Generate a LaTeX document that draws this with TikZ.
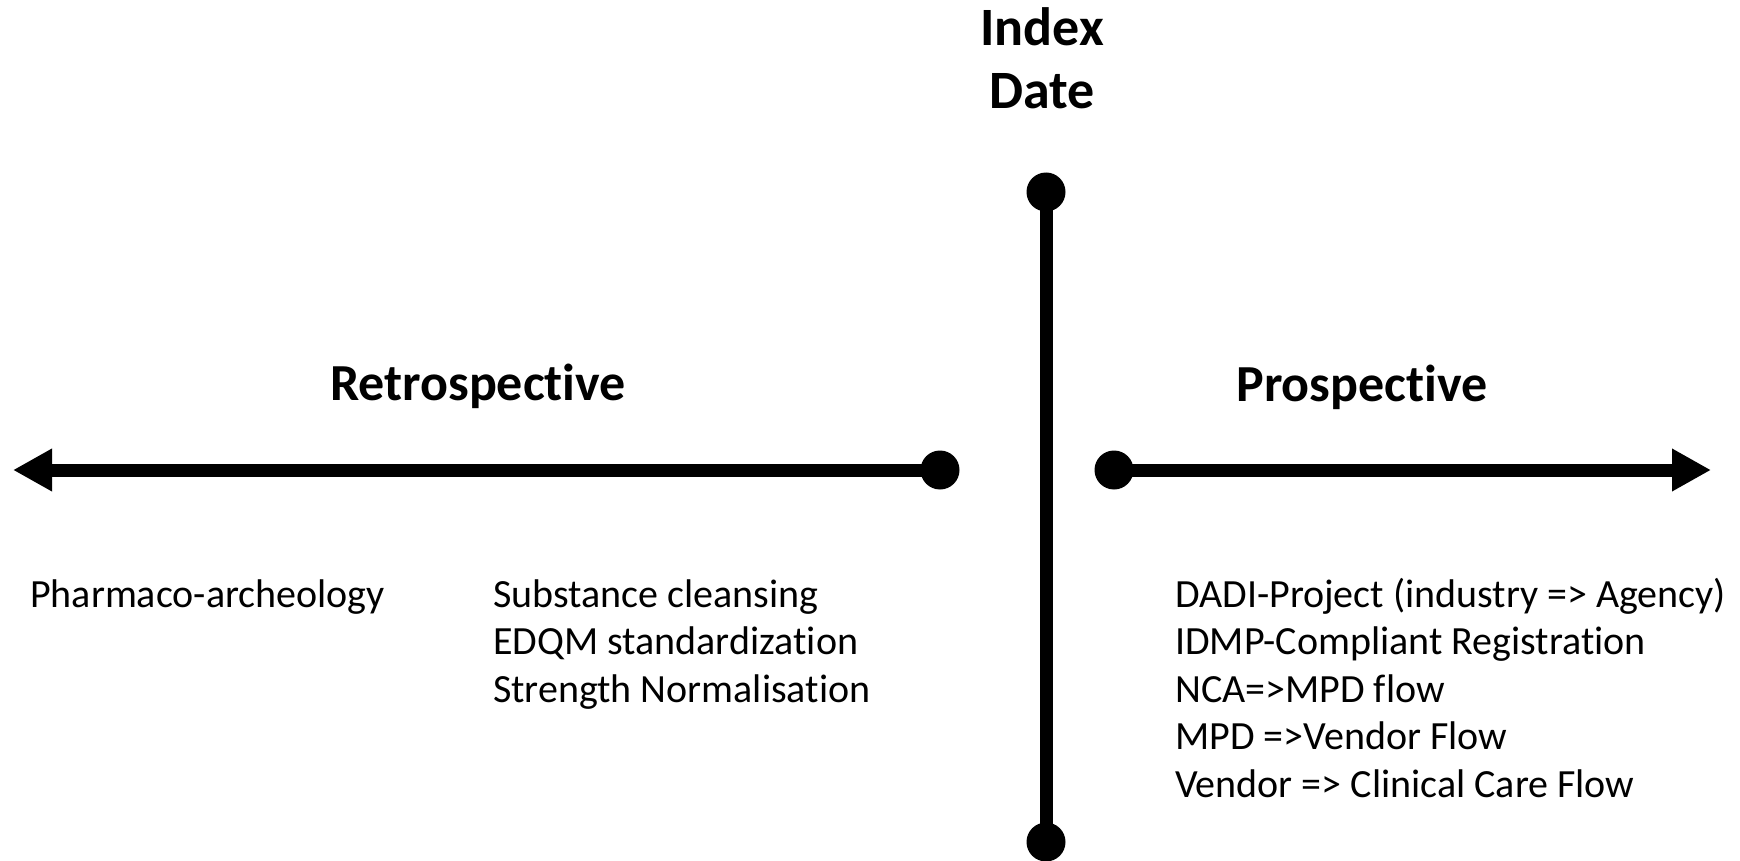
\documentclass[tikz,border=0pt]{standalone}
\usepackage{fontspec}
\setmainfont[Ligatures=NoCommon]{Carlito}
\usepackage{tikz}
\usetikzlibrary{arrows.meta,positioning}

\begin{document}
\begin{tikzpicture}[
  x=1pt, y=-1pt,
  dot/.style={circle, fill=black, inner sep=0pt, minimum size=39pt},
  axis/.style={line width=13pt, draw=black},
  timeline/.style={line width=13pt, draw=black, -{Triangle[length=39pt,width=40pt]}},
  heading/.style={font=\fontsize{52}{57}\selectfont\bfseries, inner sep=0pt, anchor=base},
  items/.style={font=\fontsize{40}{47.5}\selectfont, inner sep=0pt, anchor=base west, align=left}
]
  \useasboundingbox (0,0) rectangle (1740,861);

  \node[heading, font=\fontsize{54}{63}\selectfont\bfseries, align=center] (index) at (1042,109) {Index\\Date};
  \node[dot] (indextop) at (1046,192) {};
  \node[dot] (indexbottom) at (1046,842) {};
  \draw[axis] (indextop.center) -- (indexbottom.center);

  \node[heading] (retro) at (478,400) {Retrospective};
  \node[heading] (pro) at (1362,401) {Prospective};

  \node[dot] (retrostart) at (940,470) {};
  \coordinate (past) at (13,470);
  \node[dot] (prostart) at (1114,470) {};
  \coordinate (future) at (1711,470);
  \draw[timeline] (retrostart.center) -- (past);
  \draw[timeline] (prostart.center) -- (future);

  \node[items] (archeo) at (30,607) {Pharmaco-archeology};
  \node[items] (cleansing) at (493,702) {Substance cleansing\\EDQM standardization\\Strength Normalisation};
  \node[items] (flows) at (1175,797) {DADI-Project (industry => Agency)\\IDMP-Compliant Registration\\NCA=>MPD flow\\MPD =>Vendor Flow\\Vendor => Clinical Care Flow};
\end{tikzpicture}
\end{document}
